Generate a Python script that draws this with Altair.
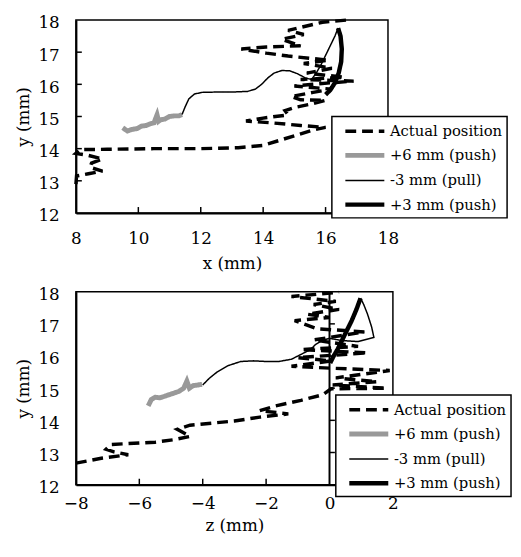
import altair as alt
import pandas as pd

SERIES = ["Actual position", "+6 mm (push)", "-3 mm (pull)", "+3 mm (push)"]
COLORS = ["#000000", "#999999", "#000000", "#000000"]
DASHES = [[11, 6], [1, 0], [1, 0], [1, 0]]
WIDTHS = [3.5, 5, 1.5, 4.5]

# ---- top panel (x vs y) ----
act_x_top = [8.0, 8.02, 8.4, 8.85, 8.45, 8.5, 8.85, 8.35, 8.0, 8.15, 9.0, 10.5, 12.0, 13.2,
             14.0, 14.5, 15.0, 15.6, 16.0, 15.2, 14.3, 13.45, 14.0, 14.8, 14.7, 15.0, 15.6,
             16.0, 15.2, 14.9, 15.6, 16.2, 15.0, 15.8, 16.9, 15.2, 16.6, 15.4, 16.2, 15.3,
             16.1, 14.8, 14.1, 13.3, 14.1, 15.2, 14.6, 15.3, 14.8, 15.9, 16.7]
act_y_top = [12.9, 13.15, 13.22, 13.3, 13.42, 13.55, 13.68, 13.8, 13.85, 13.97, 13.98, 14.0,
             14.0, 14.03, 14.1, 14.25, 14.4, 14.58, 14.66, 14.72, 14.8, 14.86, 14.95, 15.05,
             15.18, 15.28, 15.4, 15.5, 15.52, 15.62, 15.75, 15.85, 15.95, 16.02, 16.1, 16.15,
             16.22, 16.35, 16.5, 16.65, 16.75, 16.88, 16.97, 17.1, 17.16, 17.2, 17.4, 17.55,
             17.68, 17.93, 18.0]
grey_x_top = [9.5, 9.65, 9.8, 9.95, 10.1, 10.25, 10.4, 10.5, 10.6, 10.65, 10.72, 10.85, 11.0,
              11.15, 11.3, 11.4]
grey_y_top = [14.65, 14.55, 14.6, 14.62, 14.7, 14.72, 14.78, 14.8, 15.05, 14.85, 14.9, 14.92,
              15.0, 15.02, 15.02, 15.06]
thin_x_top = [11.4, 11.5, 11.62, 11.8, 12.05, 12.5, 13.0, 13.5, 13.75, 13.95, 14.15, 14.35,
              14.6, 14.85, 15.1, 15.35, 15.55, 15.7, 15.85, 16.0, 16.15, 16.3, 16.4]
thin_y_top = [15.06, 15.3, 15.55, 15.7, 15.75, 15.76, 15.76, 15.78, 15.85, 16.0, 16.2, 16.35,
              16.43, 16.42, 16.33, 16.2, 16.15, 16.35, 16.6, 16.9, 17.2, 17.5, 17.75]
thick_x_top = [16.4, 16.48, 16.52, 16.5, 16.42, 16.3, 16.15, 16.0]
thick_y_top = [17.75, 17.5, 17.1, 16.7, 16.35, 16.05, 15.82, 15.68]

# ---- bottom panel (z vs y) ----
act_z_bot = [-8.0, -7.2, -6.35, -6.8, -7.05, -6.9, -5.5, -4.9, -4.4, -4.8, -4.4, -3.0, -2.2,
             -1.3, -2.2, -1.7, -0.9, -0.2, 0.05, 1.8, 0.1, 1.5, 0.2, 1.9, 0.1, -1.2, 0.05,
             -1.0, 1.2, -0.9, 0.9, -0.5, 1.1, -0.4, -1.1, 0.0, -0.7, 0.3, -0.5, 0.2, -1.2, 0.3]
act_y_bot = [12.67, 12.82, 12.93, 13.02, 13.1, 13.25, 13.32, 13.4, 13.5, 13.72, 13.85, 13.98,
             14.1, 14.2, 14.3, 14.45, 14.62, 14.8, 14.98, 15.0, 15.1, 15.2, 15.32, 15.55, 15.62,
             15.68, 15.85, 15.95, 16.1, 16.2, 16.3, 16.5, 16.75, 16.85, 17.1, 17.2, 17.3, 17.45,
             17.6, 17.7, 17.85, 17.98]
grey_z_bot = [-5.72, -5.62, -5.5, -5.35, -5.2, -5.05, -4.9, -4.75, -4.6, -4.5, -4.42, -4.3,
              -4.15, -4.02]
grey_y_bot = [14.45, 14.65, 14.72, 14.7, 14.75, 14.8, 14.85, 14.9, 15.0, 15.22, 15.0, 15.08,
              15.1, 15.12]
thin_z_bot = [-4.0, -3.8, -3.55, -3.2, -2.8, -2.4, -2.0, -1.6, -1.2, -0.9, -0.6, -0.45, -0.2,
              0.0, 0.4, 0.9, 1.4, 1.33, 1.2, 1.08, 0.98]
thin_y_bot = [15.1, 15.3, 15.5, 15.7, 15.83, 15.85, 15.83, 15.83, 15.9, 16.05, 16.2, 16.35,
              16.5, 16.55, 16.48, 16.45, 16.58, 16.9, 17.3, 17.6, 17.8]
thick_z_bot = [0.98, 0.85, 0.7, 0.55, 0.4, 0.25, 0.12, 0.02]
thick_y_bot = [17.8, 17.45, 17.1, 16.8, 16.5, 16.2, 15.98, 15.78]

x_top_labels = [8, 10, 12, 14, 16, 18]
x_top_ticks = [10, 12, 14, 16]
z_bot_labels = [-8, -6, -4, -2, 0, 2]
z_bot_ticks = [-6, -4, -2]
y_labels = [12, 13, 14, 15, 16, 17, 18]
y_ticks = [13, 14, 15, 16, 17]

FONT = "DejaVu Serif"
AX = 17
LG = 15


def panel(series_xy, xdom, xlabels, xticks, xtitle, width, height, lab_pad, title_pad,
          legend_x, legend_y, zero_axis):
    xscale = alt.Scale(domain=xdom, nice=False, zero=False)
    yscale = alt.Scale(domain=[12, 18], nice=False, zero=False)
    xenc = alt.X("h:Q", scale=xscale, axis=alt.Axis(
        title=xtitle, values=xlabels, ticks=False, tickSize=0, grid=False,
        domainColor="black", domainWidth=2, labelFont=FONT, labelFontSize=AX,
        labelColor="black", labelPadding=lab_pad, labelFlush=False,
        titleFont=FONT, titleFontSize=AX, titleFontWeight="normal", titleColor="black",
        titlePadding=title_pad))
    yenc = alt.Y("v:Q", scale=yscale, axis=alt.Axis(
        title="y (mm)", values=y_labels, ticks=False, tickSize=0, grid=False,
        domainColor="black", domainWidth=2, labelFont=FONT, labelFontSize=AX,
        labelColor="black", labelPadding=17, labelOffset=3, labelFlush=False,
        titleFont=FONT, titleFontSize=AX, titleFontWeight="normal", titleColor="black",
        titlePadding=6))
    legend = alt.Legend(
        title=None, orient="none", legendX=legend_x, legendY=legend_y,
        fillColor="white", strokeColor="black", padding=4,
        rowPadding=5, labelFont=FONT, labelFontSize=LG, labelColor="black",
        symbolType="M-2.2,0H2.2", symbolSize=324, symbolOffset=18, labelOffset=14,
        cornerRadius=0)
    layers = []
    for k, (xs, ys) in enumerate(series_xy):
        df = pd.DataFrame({"h": xs, "v": ys, "series": SERIES[k], "i": list(range(len(xs)))})
        layers.append(
            alt.Chart(df).mark_line(interpolate="linear", strokeCap="butt").encode(
                x=xenc, y=yenc,
                color=alt.Color("series:N", scale=alt.Scale(domain=SERIES, range=COLORS),
                                legend=legend),
                strokeDash=alt.StrokeDash("series:N", scale=alt.Scale(domain=SERIES, range=DASHES),
                                          legend=legend),
                strokeWidth=alt.StrokeWidth("series:N",
                                            scale=alt.Scale(type="ordinal", domain=SERIES, range=WIDTHS),
                                            legend=legend),
                order="i:Q",
            )
        )
    xt = pd.DataFrame({"h": xticks})
    layers.append(alt.Chart(xt).mark_rule(color="black", strokeWidth=1.5).encode(
        x=xenc, y=alt.value(height), y2=alt.value(height - 6)))
    if zero_axis:
        zl = pd.DataFrame({"h": [0]})
        layers.append(alt.Chart(zl).mark_rule(color="black", strokeWidth=2).encode(x=xenc))
        yt = pd.DataFrame({"v": y_ticks, "h": [0] * len(y_ticks), "h2": [0.17] * len(y_ticks)})
        layers.append(alt.Chart(yt).mark_rule(color="black", strokeWidth=1.5).encode(
            y=yenc, x=xenc, x2="h2:Q"))
    else:
        yt = pd.DataFrame({"v": y_ticks})
        layers.append(alt.Chart(yt).mark_rule(color="black", strokeWidth=1.5).encode(
            y=yenc, x=alt.value(0), x2=alt.value(6)))
    return alt.layer(*layers).properties(width=width, height=height)


top = panel([(act_x_top, act_y_top), (grey_x_top, grey_y_top), (thin_x_top, thin_y_top),
             (thick_x_top, thick_y_top)], [8, 18], x_top_labels, x_top_ticks, "x (mm)",
            317, 196, 18, 9, 260, 98, False)
bottom = panel([(act_z_bot, act_y_bot), (grey_z_bot, grey_y_bot), (thin_z_bot, thin_y_bot),
                (thick_z_bot, thick_y_bot)], [-8, 2], z_bot_labels, z_bot_ticks, "z (mm)",
               322, 196, 11, 7, 264, 105, True)

chart = alt.vconcat(top, bottom, spacing=12).resolve_scale(
    color="independent", strokeDash="independent", strokeWidth="independent"
).resolve_legend(
    color="independent", strokeDash="independent", strokeWidth="independent"
).properties(
    padding={"left": 5, "top": 0, "right": 0, "bottom": 0}
).configure_view(stroke="black", strokeWidth=1.5).configure_legend(strokeWidth=1.5)

chart.save("out.html", embed_options={"renderer": "svg", "actions": False})
